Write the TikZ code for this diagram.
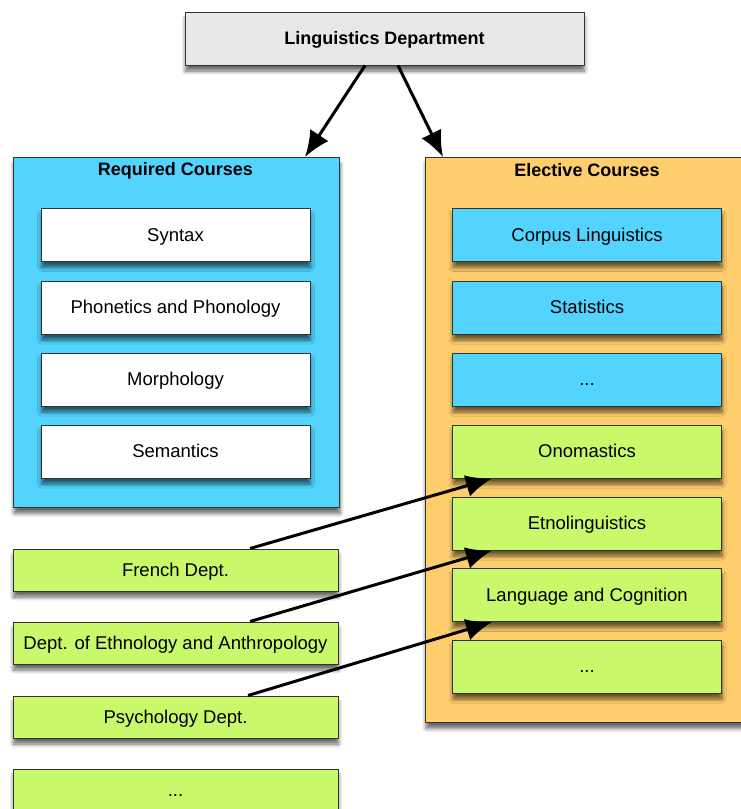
\documentclass[tikz,border=0pt]{standalone}
\usepackage{fontspec}
\setmainfont{Liberation Sans}
\usetikzlibrary{arrows.meta,shadows.blur}

\definecolor{deptgrey}{HTML}{E8E8E8}
\definecolor{reqblue}{HTML}{52D4FF}
\definecolor{elecorange}{HTML}{FFCE6C}
\definecolor{coursegreen}{HTML}{C9F86B}
\definecolor{edgedark}{HTML}{333333}

\tikzset{
  box/.style={draw=edgedark, line width=1pt, rectangle, inner sep=0pt,
    font=\fontsize{18.5}{22}\selectfont, text height=15pt, text depth=3pt,
    blur shadow={shadow xshift=0.5pt, shadow yshift=-6pt, shadow blur steps=6,
      shadow blur radius=4pt, shadow opacity=60}},
  coursebox/.style={box, minimum width=269pt, minimum height=53pt},
  deptbox/.style={box, fill=coursegreen, minimum width=325pt, minimum height=42pt},
  groupbox/.style={box, anchor=north west},
  grouptitle/.style={font=\bfseries\fontsize{18}{22}\selectfont, anchor=center},
  link/.style={line width=3pt, -{Latex[length=26pt,width=22pt]}},
}

\begin{document}
\begin{tikzpicture}[x=1pt,y=-1pt]
\useasboundingbox (0,0) rectangle (741,809);

% head of the hierarchy
\node[box, fill=deptgrey, minimum width=399pt, minimum height=53pt,
  font=\bfseries\fontsize{18}{22}\selectfont] (dept) at (384.5,38.5) {Linguistics Department};

% the two course groups
\node[groupbox, fill=reqblue, minimum width=326pt, minimum height=350pt] (req) at (13,157) {};
\node[grouptitle] (reqtitle) at (175.5,170.5) {Required Courses};
\node[groupbox, fill=elecorange, minimum width=324pt, minimum height=565pt] (elec) at (425,157) {};
\node[grouptitle] (electitle) at (587,170.5) {Elective Courses};

% required courses
\node[coursebox, fill=white] (syntax) at (175.5,235) {Syntax};
\node[coursebox, fill=white] (phon) at (175.5,307.5) {Phonetics and Phonology};
\node[coursebox, fill=white] (morph) at (175.5,379.5) {Morphology};
\node[coursebox, fill=white] (sem) at (175.5,451.5) {Semantics};

% elective courses
\node[coursebox, fill=reqblue] (corpus) at (587,235) {Corpus Linguistics};
\node[coursebox, fill=reqblue] (stats) at (587,307.5) {Statistics};
\node[coursebox, fill=reqblue] (moreblue) at (587,379.5) {...};
\node[coursebox, fill=coursegreen] (onom) at (587,451.5) {Onomastics};
\node[coursebox, fill=coursegreen] (etno) at (587,523.5) {Etnolinguistics};
\node[coursebox, fill=coursegreen] (langcog) at (587,595) {Language and Cognition};
\node[coursebox, fill=coursegreen] (moregreen) at (587,666.5) {...};

% other departments
\node[deptbox] (french) at (175.5,570) {French Dept.};
\node[deptbox] (ethno) at (175.5,643) {Dept. of Ethnology and Anthropology};
\node[deptbox] (psych) at (175.5,717) {Psychology Dept.};
\node[deptbox] (moredept) at (175.5,790) {...};

% connectors
\draw[link] ([xshift=-19.5pt]dept.south) -- ([xshift=292pt]req.north west);
\draw[link] ([xshift=13.5pt]dept.south) -- ([xshift=18pt]elec.north west);
\draw[link] ([xshift=74.5pt]french.north) -- ([xshift=-95pt]onom.south);
\draw[link] ([xshift=74.5pt]ethno.north) -- ([xshift=-95pt]etno.south);
\draw[link] ([xshift=72.5pt]psych.north) -- ([xshift=-95pt]langcog.south);
\end{tikzpicture}
\end{document}
